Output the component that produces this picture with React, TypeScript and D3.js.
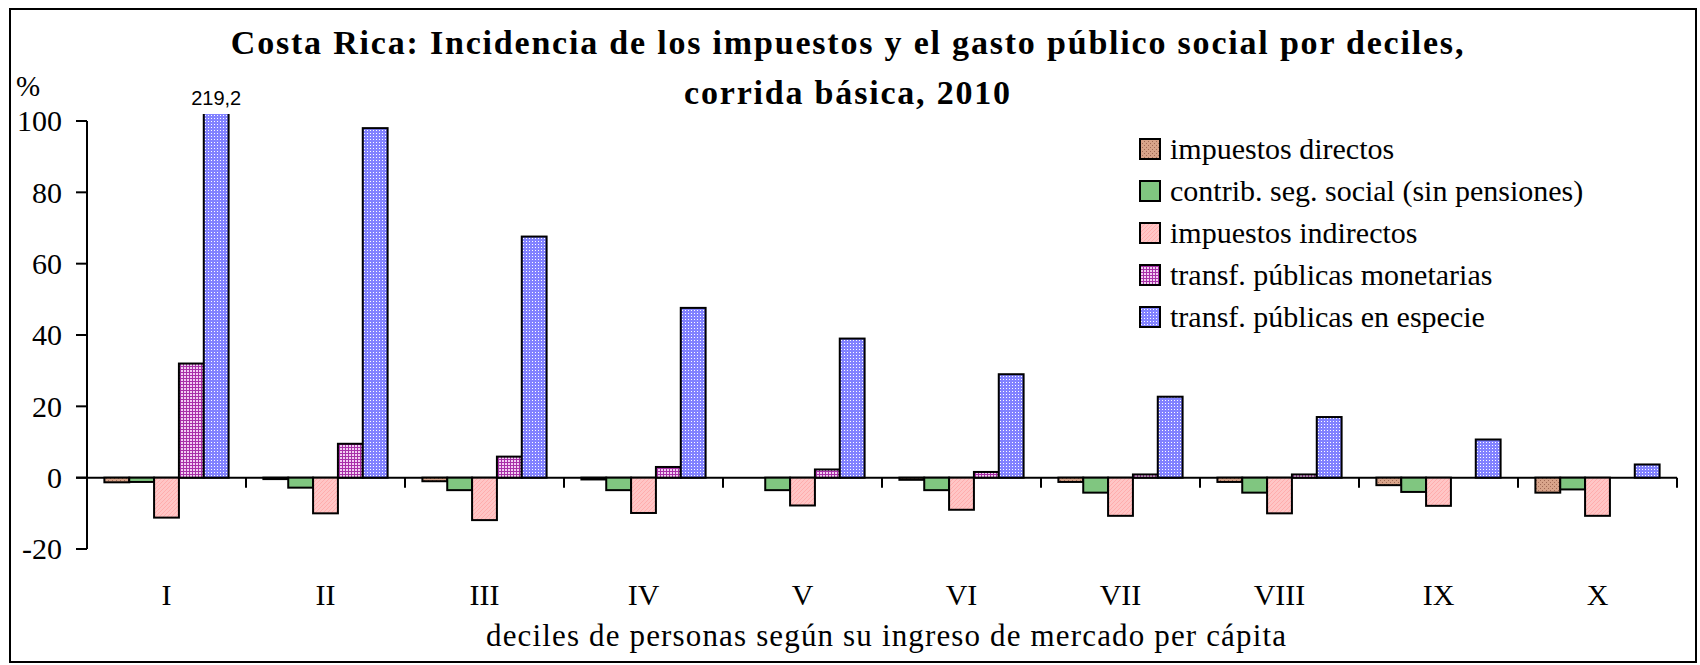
import React, { useRef, useEffect } from "react";
import * as d3 from "d3";

// deciles de personas
const deciles = ["I", "II", "III", "IV", "V", "VI", "VII", "VIII", "IX", "X"];

const seriesNames = [
  "impuestos directos",
  "contrib. seg. social (sin pensiones)",
  "impuestos indirectos",
  "transf. públicas monetarias",
  "transf. públicas en especie",
];

// valores en %
const impDirectos = [-1.3, -0.4, -1.0, -0.5, 0, -0.6, -1.2, -1.2, -2.1, -4.2];
const contribSeg = [-1.2, -2.8, -3.5, -3.5, -3.5, -3.5, -4.2, -4.2, -4.0, -3.3];
const impIndirectos = [-11.2, -10.0, -11.9, -9.9, -7.8, -9.0, -10.7, -10.0, -7.9, -10.7];
const transfMonetarias = [32.0, 9.5, 5.9, 3.0, 2.3, 1.6, 0.9, 0.9, 0, 0];
const transfEspecie = [219.2, 98.0, 67.6, 47.6, 39.0, 29.0, 22.7, 17.0, 10.7, 3.7];

const yTicks = [-20, 0, 20, 40, 60, 80, 100];
const yDomain = [-20, 100];

const serif = "'Liberation Serif', 'Times New Roman', serif";

const App = () => {
  const chartRef = useRef(null);

  const width = 1700;
  const height = 665;

  useEffect(() => {
    const svg = d3.select(chartRef.current);
    svg.selectAll("*").remove();

    const allSeries = [impDirectos, contribSeg, impIndirectos, transfMonetarias, transfEspecie];

    const x = d3.scaleBand().domain(deciles).range([87, 1677]).padding(0);
    const xInner = d3
      .scaleBand()
      .domain(seriesNames)
      .range([0, x.bandwidth()])
      .paddingInner(0)
      .paddingOuter(0.7);
    const y = d3.scaleLinear().domain(yDomain).range([549, 121]);
    const y0 = y(0);

    // patterns
    const defs = svg.append("defs");
    const pBrown = defs.append("pattern").attr("id", "pat0").attr("width", 4).attr("height", 4).attr("patternUnits", "userSpaceOnUse");
    pBrown.append("rect").attr("width", 4).attr("height", 4).attr("fill", "#d8a48a");
    pBrown.append("rect").attr("x", 0).attr("y", 0).attr("width", 1).attr("height", 1).attr("fill", "#a06a55");
    pBrown.append("rect").attr("x", 2).attr("y", 2).attr("width", 1).attr("height", 1).attr("fill", "#a06a55");

    const pPink = defs.append("pattern").attr("id", "pat2").attr("width", 4).attr("height", 4).attr("patternUnits", "userSpaceOnUse");
    pPink.append("rect").attr("width", 4).attr("height", 4).attr("fill", "#ffc6c6");
    pPink.append("path").attr("d", "M0,4 L4,0 M-1,1 L1,-1 M3,5 L5,3").attr("stroke", "#ffadad").attr("stroke-width", 1);

    const pPurple = defs.append("pattern").attr("id", "pat3").attr("width", 3).attr("height", 3).attr("patternUnits", "userSpaceOnUse");
    pPurple.append("rect").attr("width", 3).attr("height", 3).attr("fill", "#f2cef2");
    pPurple.append("rect").attr("width", 3).attr("height", 1).attr("fill", "#a830a8");
    pPurple.append("rect").attr("width", 1).attr("height", 3).attr("fill", "#a830a8");

    const pBlue = defs.append("pattern").attr("id", "pat4").attr("width", 3).attr("height", 3).attr("patternUnits", "userSpaceOnUse");
    pBlue.append("rect").attr("width", 3).attr("height", 3).attr("fill", "#8282ff");
    pBlue.append("rect").attr("x", 1).attr("y", 1).attr("width", 1).attr("height", 1).attr("fill", "#ffffff");

    const fills = ["url(#pat0)", "#80c680", "url(#pat2)", "url(#pat3)", "url(#pat4)"];

    defs
      .append("clipPath")
      .attr("id", "plotClip")
      .append("rect")
      .attr("x", 80)
      .attr("y", 114)
      .attr("width", 1610)
      .attr("height", 460);

    // chart frame
    svg
      .append("rect")
      .attr("x", 10)
      .attr("y", 9)
      .attr("width", 1686)
      .attr("height", 653)
      .attr("fill", "white")
      .attr("stroke", "black")
      .attr("stroke-width", 2);

    // title
    const title = svg
      .append("text")
      .attr("x", 848)
      .attr("text-anchor", "middle")
      .style("font-family", serif)
      .style("font-weight", "bold")
      .style("font-size", "34px")
      .style("letter-spacing", "1.8px");
    title.append("tspan").attr("x", 848).attr("y", 54).text("Costa Rica: Incidencia de los impuestos y el gasto público social por deciles,");
    title.append("tspan").attr("x", 848).attr("y", 104).text("corrida básica, 2010");

    // % label
    svg
      .append("text")
      .attr("x", 16)
      .attr("y", 96)
      .style("font-family", serif)
      .style("font-size", "29px")
      .text("%");

    // axes
    svg
      .append("line")
      .attr("x1", 76)
      .attr("x2", 1677)
      .attr("y1", y0)
      .attr("y2", y0)
      .attr("stroke", "black")
      .attr("stroke-width", 2);

    svg
      .append("line")
      .attr("x1", 87)
      .attr("x2", 87)
      .attr("y1", y(100))
      .attr("y2", y(-20))
      .attr("stroke", "black")
      .attr("stroke-width", 2);

    svg
      .selectAll("yTick")
      .data(yTicks)
      .enter()
      .append("line")
      .attr("x1", 76)
      .attr("x2", 87)
      .attr("y1", (d) => y(d))
      .attr("y2", (d) => y(d))
      .attr("stroke", "black")
      .attr("stroke-width", 2);

    svg
      .selectAll("yLabel")
      .data(yTicks)
      .enter()
      .append("text")
      .attr("x", 62)
      .attr("y", (d) => y(d))
      .attr("dy", "0.34em")
      .attr("text-anchor", "end")
      .style("font-family", serif)
      .style("font-size", "30px")
      .text((d) => d);

    svg
      .selectAll("xTick")
      .data(deciles)
      .enter()
      .append("line")
      .attr("x1", (d) => x(d) + x.bandwidth())
      .attr("x2", (d) => x(d) + x.bandwidth())
      .attr("y1", y0)
      .attr("y2", y0 + 10)
      .attr("stroke", "black")
      .attr("stroke-width", 2);

    svg
      .selectAll("xLabel")
      .data(deciles)
      .enter()
      .append("text")
      .attr("x", (d) => x(d) + x.bandwidth() / 2)
      .attr("y", 605)
      .attr("text-anchor", "middle")
      .style("font-family", serif)
      .style("font-size", "30px")
      .text((d) => d);

    svg
      .append("text")
      .attr("x", 886)
      .attr("y", 646)
      .attr("text-anchor", "middle")
      .attr("textLength", 800)
      .attr("lengthAdjust", "spacing")
      .style("font-family", serif)
      .style("font-size", "31px")
      .text("deciles de personas según su ingreso de mercado per cápita");

    // bars
    const bars = svg.append("g").attr("clip-path", "url(#plotClip)");
    allSeries.forEach((vals, si) => {
      bars
        .selectAll("bar" + si)
        .data(vals.map((v, i) => ({ dec: deciles[i], v })).filter((d) => d.v !== 0))
        .enter()
        .append("rect")
        .attr("x", (d) => x(d.dec) + xInner(seriesNames[si]))
        .attr("y", (d) => Math.min(y(d.v), y0))
        .attr("width", xInner.bandwidth())
        .attr("height", (d) => Math.abs(y(d.v) - y0))
        .attr("fill", fills[si])
        .attr("stroke", "black")
        .attr("stroke-width", 2);
    });

    // label for clipped bar
    const clipped = transfEspecie
      .map((v, i) => ({ dec: deciles[i], v }))
      .filter((d) => d.v > yDomain[1]);
    svg
      .selectAll("clipLabel")
      .data(clipped)
      .enter()
      .append("text")
      .attr("x", (d) => x(d.dec) + xInner(seriesNames[4]) + xInner.bandwidth() / 2)
      .attr("y", 105)
      .attr("text-anchor", "middle")
      .style("font-family", "'Liberation Sans', Arial, sans-serif")
      .style("font-size", "20px")
      .text((d) => d3.format(".1f")(d.v).replace(".", ","));

    // legend
    const legend = svg
      .selectAll("legendItem")
      .data(seriesNames)
      .enter()
      .append("g")
      .attr("transform", (d, i) => `translate(1140, ${149 + i * 42})`);
    legend
      .append("rect")
      .attr("x", 0)
      .attr("y", -10)
      .attr("width", 20)
      .attr("height", 20)
      .attr("fill", (d, i) => fills[i])
      .attr("stroke", "black")
      .attr("stroke-width", 2);
    legend
      .append("text")
      .attr("x", 30)
      .attr("y", 0)
      .attr("dy", "0.32em")
      .style("font-family", serif)
      .style("font-size", "30px")
      .text((d) => d);
  }, []);

  return (
    <svg
      ref={chartRef}
      width={width}
      height={height}
      style={{ position: "absolute", left: 0, top: 0, background: "white" }}
    ></svg>
  );
};

export default App;
